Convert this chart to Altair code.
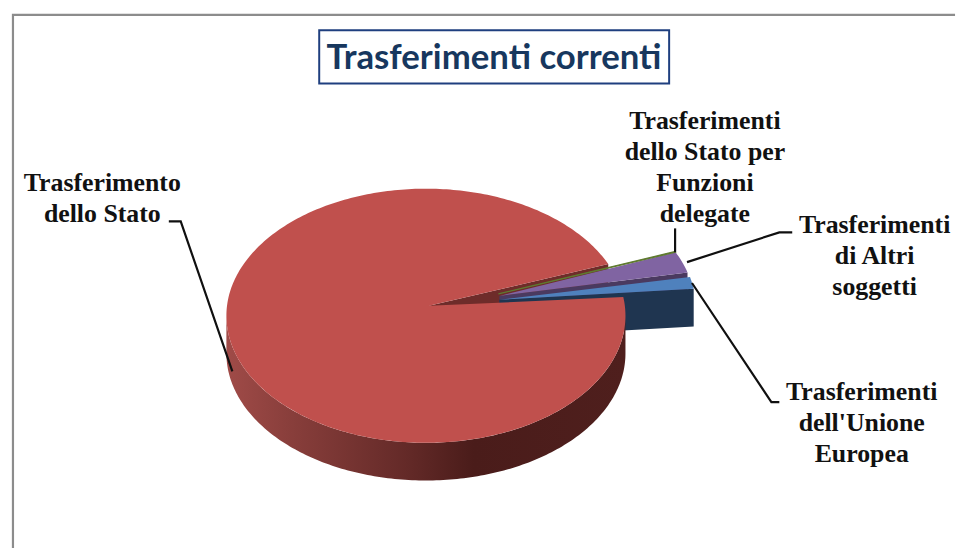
import math
import altair as alt
import pandas as pd

# ---- data ----
SLICE_NAMES = ["Trasferimento dello Stato", "Trasferimenti dello Stato per Funzioni delegate",
               "Trasferimenti di Altri soggetti", "Trasferimenti dell'Unione Europea"]
SHARES = [95.7, 0.1, 2.7, 1.5]
TITLE = "Trasferimenti correnti"
LABEL_LINES = [
    ["Trasferimento", "dello Stato"],
    ["Trasferimenti", "dello Stato per", "Funzioni", "delegate"],
    ["Trasferimenti", "di Altri", "soggetti"],
    ["Trasferimenti", "dell'Unione", "Europea"],
]

# ---- layout (reference pixels) ----
W, H = 952, 542
RX, RY, DEPTH = 201, 128, 38
LABEL_POS = [(101, 182), (708, 120), (879, 225), (866, 393)]
LINE_STEP = 31.2
LEADERS = [
    [(168, 221), (180, 221), (232, 372)],
    [(678, 228), (678, 252)],
    [(690, 262), (783, 232), (796, 232)],
    [(695, 283), (775, 403), (783, 403)],
]


def rim(cx, cy, t):
    a = math.radians(t)
    return (cx + RX * math.cos(a), cy - RY * math.sin(a))


def arc(cx, cy, t0, t1, step=1.0):
    n = max(2, int(abs(t1 - t0) / step) + 1)
    return [rim(cx, cy, t0 + (t1 - t0) * i / (n - 1)) for i in range(n)]


def poly(points):
    ring = [list(p) for p in points]
    ring.append(ring[0])
    return alt.Data(values=[{"type": "Feature", "properties": {},
                             "geometry": {"type": "Polygon", "coordinates": [ring]}}])


def shape(points, fill, **kw):
    return alt.Chart(poly(points)).mark_geoshape(fill=fill, strokeWidth=kw.pop("strokeWidth", 0), **kw).project(
        type="identity", scale=1, translate=[-8, -8])


def down(p):
    return (p[0], p[1] + DEPTH)


def cut(apex, edge):
    return [apex, edge, down(edge), down(apex)]


# slice angles follow the shares, each slice has its own explosion offset
red_c, red_apex = (427, 316), (430, 306)
red_t0 = 8.5
red_t1 = red_t0 - SHARES[0] * 3.6

green_c, green_apex = (497, 307), (500, 294)
green_t0 = 25.8
green_t1 = green_t0 - SHARES[1] * 3.6

purple_c, purple_apex = (497, 307), (501, 296)
purple_t0 = green_t1
purple_t1 = purple_t0 - SHARES[2] * 3.6

blue_c, blue_apex = (498, 308), (501, 300)
blue_t0 = 14.0
blue_t1 = blue_t0 - SHARES[3] * 3.6

wall_front = arc(red_c[0], red_c[1], 180, 360)
wall_pts = wall_front + [down(p) for p in reversed(wall_front)]
wall_fill = alt.Gradient(gradient="linear", x1=0, x2=1, y1=0, y2=0, stops=[
    alt.GradientStop(color="#a04b48", offset=0),
    alt.GradientStop(color="#8a3f3c", offset=0.15),
    alt.GradientStop(color="#642a28", offset=0.45),
    alt.GradientStop(color="#4a1c1a", offset=0.62),
    alt.GradientStop(color="#4f1f1d", offset=1),
])

layers = [
    shape(cut(red_apex, rim(*red_c, red_t1)), "#6e2c2a"),
    shape(cut(purple_apex, rim(*purple_c, purple_t1)), "#4a3a60"),
    shape(cut(blue_apex, rim(*blue_c, blue_t1)), "#1f3550"),
    shape(wall_pts, wall_fill),
    shape([purple_apex] + arc(*purple_c, purple_t0, purple_t1), "#8064a2"),
    shape([green_apex] + arc(*green_c, green_t0, green_t1, 0.1), "#5f7a30",
          stroke="#5f7a30", strokeWidth=1.2),
    shape([blue_apex] + arc(*blue_c, blue_t0, blue_t1), "#4f81bd"),
    shape([red_apex] + arc(*red_c, red_t0, red_t1), "#c0504d"),
]

x_scale = alt.Scale(domain=[8, 8 + W], nice=False, zero=False)
y_scale = alt.Scale(domain=[8, 8 + H], reverse=True, nice=False, zero=False)
X = lambda f: alt.X(f, type="quantitative", scale=x_scale, axis=None)
Y = lambda f: alt.Y(f, type="quantitative", scale=y_scale, axis=None)

# chart frame (top and left edges only reach the window)
frame = pd.DataFrame({"x": [11, 11, 8 + W], "y": [8 + H, 13, 13], "o": [0, 1, 2]})
layers.append(alt.Chart(frame).mark_line(color="#8c8c8c", strokeWidth=2.2).encode(
    x=X("x"), y=Y("y"), order="o:Q"))

# leader lines
rows = [{"g": i, "o": j, "x": p[0], "y": p[1]} for i, pts in enumerate(LEADERS) for j, p in enumerate(pts)]
layers.append(alt.Chart(pd.DataFrame(rows)).mark_line(color="#101010", strokeWidth=2.2).encode(
    x=X("x"), y=Y("y"), detail="g:N", order="o:Q"))

# labels
rows = [{"x": LABEL_POS[i][0], "y": LABEL_POS[i][1] + j * LINE_STEP, "t": line}
        for i, lines in enumerate(LABEL_LINES) for j, line in enumerate(lines)]
layers.append(alt.Chart(pd.DataFrame(rows)).mark_text(
    font="Liberation Serif", fontWeight="bold", fontSize=26, color="#111111",
    align="center", baseline="middle").encode(x=X("x"), y=Y("y"), text="t:N"))

# title box
box = pd.DataFrame({"x": [319.5], "x2": [672], "y": [28.5], "y2": [82]})
layers.append(alt.Chart(box).mark_rect(fill="white", stroke="#1f3f7f", strokeWidth=2).encode(
    x=X("x"), x2="x2", y=Y("y"), y2="y2"))
layers.append(alt.Chart(pd.DataFrame({"x": [495.5], "y": [56.5], "t": [TITLE]})).mark_text(
    font="Lato", fontWeight="bold", fontSize=35, color="#17375e",
    align="center", baseline="middle").encode(x=X("x"), y=Y("y"), text="t:N"))

chart = alt.layer(*layers).properties(width=W, height=H, padding=0).configure_view(stroke=None)
chart.save("out.html", embed_options={"renderer": "svg", "actions": False})
